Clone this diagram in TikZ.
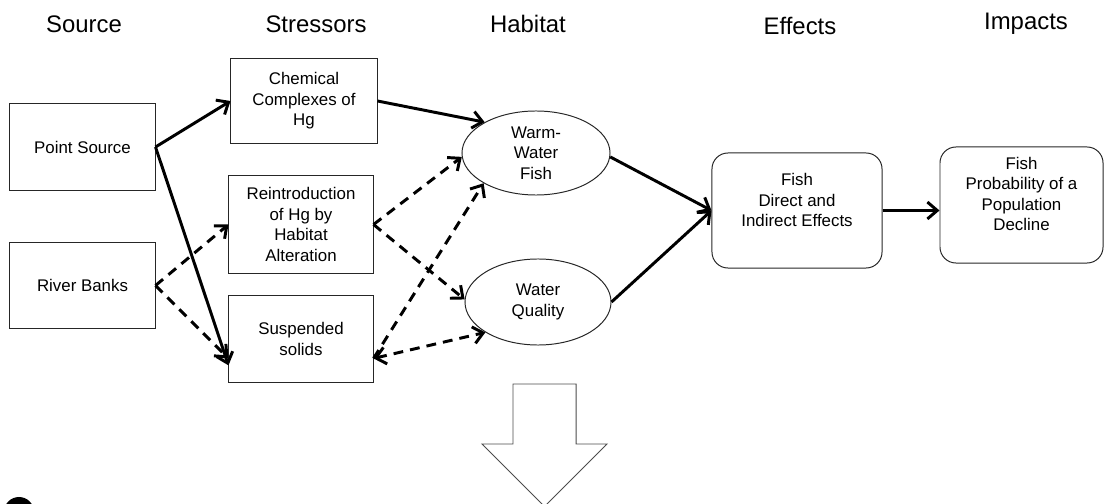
\documentclass[tikz,border=0pt]{standalone}
\usepackage{fontspec}
\setmainfont{Liberation Sans}
\usetikzlibrary{shapes.geometric,arrows.meta}

\tikzset{
  boite/.style={draw=black!85, line width=0.7pt, align=center, inner sep=2pt,
    font=\fontsize{12}{14.6}\selectfont},
  boiteR/.style={boite, rounded corners=0.4cm},
  bulle/.style={boite, ellipse},
  texte/.style={align=center, inner sep=0pt, font=\fontsize{12}{14.6}\selectfont},
  titre/.style={font=\fontsize{17}{20}\selectfont},
  fleche/.style={line width=2.1pt, >={Straight Barb[length=7pt,width=12pt]}, ->},
  flecheP/.style={fleche, dash pattern=on 7pt off 5pt},
}

\begin{document}
\begin{tikzpicture}[x=0.025cm,y=-0.025cm]  % ------ Source -> Impacts -----------
    \clip (0,0) rectangle (1104,504);

    % titres
    \node[titre] (T1) at (84,24) {Source};
    \node[titre] (T2) at (316,24) {Stressors};
    \node[titre] (T3) at (528,24) {Habitat};
    \node[titre] (T4) at (800,26) {Effects};
    \node[titre] (T5) at (1026,24) {Impacts};

    % boites
    \node[boite, minimum width=3.625cm, minimum height=2.15cm] (PS) at (82.5,147) {Point Source};
    \node[boite, minimum width=3.625cm, minimum height=2.15cm] (RB) at (82.5,285.5) {River Banks};
    \node[boite, minimum width=3.65cm, minimum height=2.1cm] (CH) at (304,101) {Chemical\\Complexes of\\Hg};
    \node[boite, minimum width=3.6cm, minimum height=2.425cm] (RE) at (301,224.5) {Reintroduction\\of Hg by\\Habitat\\Alteration};
    \node[boite, minimum width=3.6cm, minimum height=2.15cm] (SS) at (301,339) {Suspended\\solids};
    \node[bulle, minimum width=3.7cm, minimum height=2.1cm] (WF) at (536,153) {Warm-\\Water\\Fish};
    \node[bulle, minimum width=3.65cm, minimum height=2.15cm] (WQ) at (538,302) {Water\\Quality};
    \node[boiteR, minimum width=4.25cm, minimum height=2.875cm] (EF) at (797,210.5) {};
    \node[texte] (EFt) at (797,200) {Fish\\Direct and\\Indirect Effects};
    \node[boiteR, minimum width=4.075cm, minimum height=2.9cm] (IM) at (1021.5,205) {};
    \node[texte] (IMt) at (1021.5,194) {Fish\\Probability of a\\Population\\Decline};

    % fleches
    \coordinate (S1) at (SS.345);
    \draw[fleche] (PS.east) -- (CH.west);
    \draw[fleche] (PS.east) -- (SS.200);
    \draw[flecheP] (RB.east) -- (RE.west);
    \draw[flecheP] (RB.east) -- (SS.195);
    \draw[fleche] (CH.east) -- (WF.149);
    \draw[flecheP] (RE.east) -- (WF.183);
    \draw[flecheP] (RE.east) -- (WQ.178);
    \draw[flecheP] (S1) -- (WF.210);
    \draw[flecheP, <->] (S1) -- (WQ.210);
    \draw[fleche] (WF.-3) -- (EF.west);
    \draw[fleche] (WQ.east) -- (EF.west);
    \draw[fleche] (EF.east) -- (IM.west |- EF.east);

    % grosse fleche
    \draw[black!70, line width=0.7pt, fill=white]
      (513,384) -- (576,384) -- (576,444) -- (607,444) -- (544.5,506.5)
      -- (482,444) -- (513,444) -- cycle;
    \fill (19,512) circle (0.375cm);
\end{tikzpicture}
\end{document}
